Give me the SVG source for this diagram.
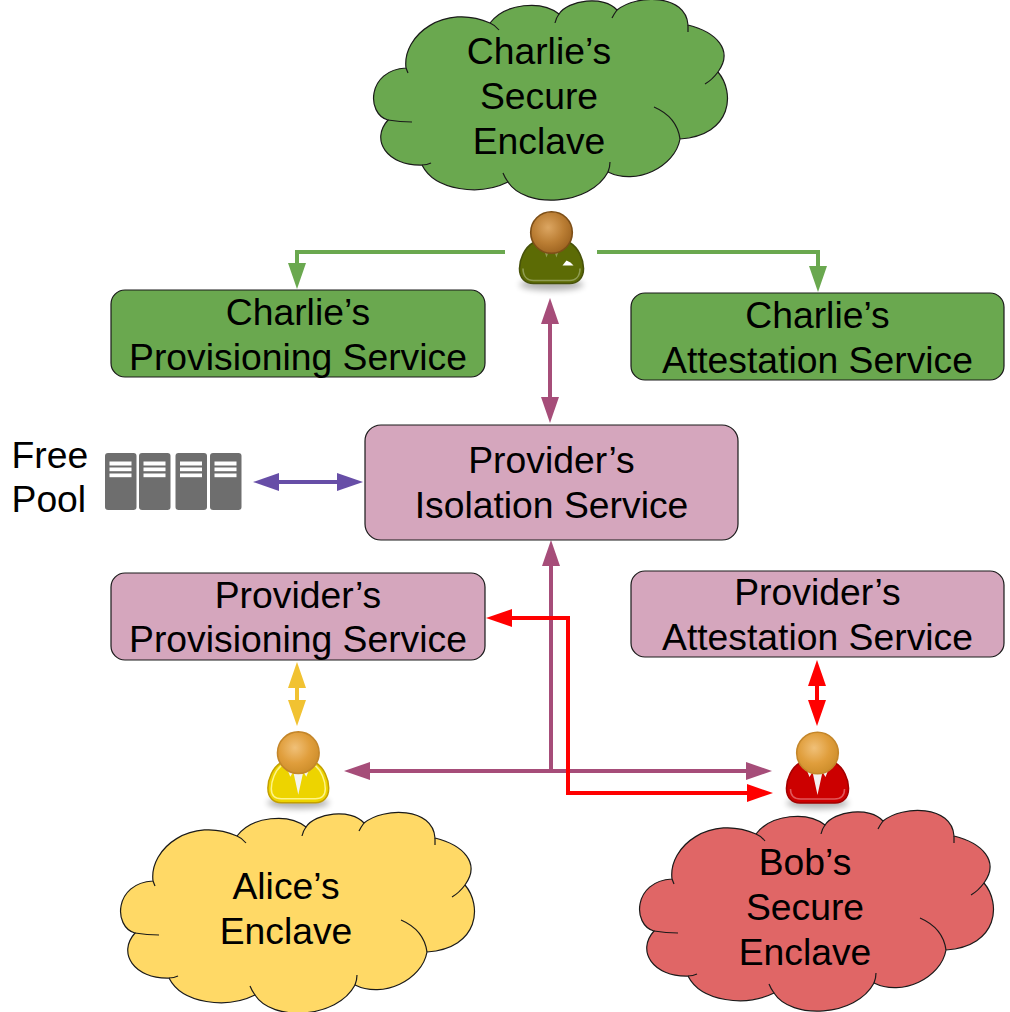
<svg xmlns="http://www.w3.org/2000/svg" width="1010" height="1012" viewBox="0 0 1010 1012">
  <style>
    text { font-family: "Liberation Sans", Arial, sans-serif; font-size: 37.3px; fill: #000; text-anchor: middle; }
    .box { stroke: #1a1a1a; stroke-width: 1.2; }
    .green { fill: #6aa84f; }
    .pink { fill: #d5a6bd; }
    .yellow { fill: #ffd966; }
    .red { fill: #e06666; }
    .cloud-line { fill: none; stroke: #1a1a1a; stroke-width: 1.2; }
    .cloud-body { stroke: #1a1a1a; stroke-width: 1.2; }
    .conn { fill: none; stroke-width: 4; }
    .unit { fill: #6e6e6e; }
    .bar { fill: #fff; }
    .head { stroke-width: 1.6; }
  </style>
  <defs>
    <marker id="ahGreen" markerUnits="userSpaceOnUse" markerWidth="26" markerHeight="18" refX="6" refY="9" orient="auto-start-reverse"><path d="M0 0L26 9L0 18Z" fill="#6aa84f"/></marker>
    <marker id="ahMauve" markerUnits="userSpaceOnUse" markerWidth="26" markerHeight="18" refX="6" refY="9" orient="auto-start-reverse"><path d="M0 0L26 9L0 18Z" fill="#a64d79"/></marker>
    <marker id="ahIndigo" markerUnits="userSpaceOnUse" markerWidth="26" markerHeight="18" refX="6" refY="9" orient="auto-start-reverse"><path d="M0 0L26 9L0 18Z" fill="#674ea7"/></marker>
    <marker id="ahAmber" markerUnits="userSpaceOnUse" markerWidth="26" markerHeight="18" refX="6" refY="9" orient="auto-start-reverse"><path d="M0 0L26 9L0 18Z" fill="#f1c232"/></marker>
    <marker id="ahRed" markerUnits="userSpaceOnUse" markerWidth="26" markerHeight="18" refX="6" refY="9" orient="auto-start-reverse"><path d="M0 0L26 9L0 18Z" fill="#ff0000"/></marker>
    <radialGradient id="headShade" cx="0.42" cy="0.38" r="0.62">
      <stop offset="0" stop-color="#f0c078"/>
      <stop offset="0.6" stop-color="#e09e3c"/>
      <stop offset="1" stop-color="#cf8f2c"/>
    </radialGradient>
    <radialGradient id="headDark" cx="0.42" cy="0.38" r="0.62">
      <stop offset="0" stop-color="#dca662"/>
      <stop offset="0.6" stop-color="#bb7e34"/>
      <stop offset="1" stop-color="#a06622"/>
    </radialGradient>
    <filter id="soft" x="-30%" y="-60%" width="160%" height="220%"><feGaussianBlur stdDeviation="3"/></filter>
    <g id="cloudLines">
      <path class="cloud-line" d="M490 23Q495 25 499 30M559 14Q556 18 555 23M617 10Q614 14 612 18M688 25L688 32M718 72Q712 80 705 84M654 107Q677 117 680 139M608 172Q610 167 610 162M508 182Q505 178 503 173M422 165Q427 165 431 163M388 120Q400 122 412 122M406 68L408 73"/>
    </g>
    <path id="cloudShape" class="cloud-body" d="M406 68C402 35 445 3 490 23C505 3 542 0 559 14C568 0 604 -5 617 10C637 -6 686 -6 688 25C716 32 734 50 718 72C735 92 733 135 680 139C675 167 636 186 608 172C590 206 525 209 508 182C480 196 435 191 422 165C387 166 370 140 388 120C366 114 367 70 406 68Z"/>
    <path id="bodyShape" d="M-18 10C-27 15 -32 27 -32 36C-32 46 -26 51 -18 51L18 51C26 51 32 46 32 36C32 27 27 15 18 10Z"/>
    <g id="server">
      <rect class="unit" width="31.5" height="57" rx="3"/>
      <rect class="bar" x="4.5" y="8.5" width="22" height="4"/>
      <rect class="bar" x="4.5" y="14.5" width="22" height="3.7"/>
      <rect class="bar" x="4.5" y="20.5" width="22" height="3.7"/>
    </g>
  </defs>

  <g id="charlie-enclave">
    <use href="#cloudShape" class="green"/>
    <use href="#cloudLines"/>
    <text x="539" y="63.5">Charlie’s</text>
    <text x="539" y="108.5">Secure</text>
    <text x="539" y="153.5">Enclave</text>
  </g>

  <g id="alice-enclave" transform="translate(-253 813)">
    <use href="#cloudShape" class="yellow"/>
    <use href="#cloudLines"/>
    <text x="539" y="85.5">Alice’s</text>
    <text x="539" y="130.5">Enclave</text>
  </g>

  <g id="bob-enclave" transform="translate(266 811)">
    <use href="#cloudShape" class="red"/>
    <use href="#cloudLines"/>
    <text x="539" y="63.5">Bob’s</text>
    <text x="539" y="108.5">Secure</text>
    <text x="539" y="153.5">Enclave</text>
  </g>

  <g id="connectors">
    <path class="conn" stroke="#6aa84f" marker-end="url(#ahGreen)" d="M505 252H297V269"/>
    <path class="conn" stroke="#6aa84f" marker-end="url(#ahGreen)" d="M597 252H818V272"/>
    <path class="conn" stroke="#a64d79" marker-start="url(#ahMauve)" marker-end="url(#ahMauve)" d="M550 318V403"/>
    <path class="conn" stroke="#674ea7" marker-start="url(#ahIndigo)" marker-end="url(#ahIndigo)" d="M273 482H343"/>
    <path class="conn" stroke="#f1c232" marker-start="url(#ahAmber)" marker-end="url(#ahAmber)" d="M297 682V706"/>
    <path class="conn" stroke="#ff0000" marker-start="url(#ahRed)" marker-end="url(#ahRed)" d="M817 680V706"/>
    <path class="conn" stroke="#a64d79" marker-end="url(#ahMauve)" d="M551 771V560"/>
    <path class="conn" stroke="#a64d79" marker-start="url(#ahMauve)" marker-end="url(#ahMauve)" d="M364 771H752"/>
    <path class="conn" stroke="#ff0000" marker-start="url(#ahRed)" marker-end="url(#ahRed)" d="M506 618H568V793H753"/>
  </g>

  <g id="charlie-provisioning">
    <rect class="box green" x="111" y="290" width="374" height="87" rx="14"/>
    <text x="298" y="324.5">Charlie’s</text>
    <text x="298" y="369.5">Provisioning Service</text>
  </g>
  <g id="charlie-attestation">
    <rect class="box green" x="631" y="293" width="373" height="87" rx="14"/>
    <text x="817.5" y="327.5">Charlie’s</text>
    <text x="817.5" y="372.5">Attestation Service</text>
  </g>
  <g id="provider-isolation">
    <rect class="box pink" x="365" y="425" width="373" height="115" rx="16"/>
    <text x="551.5" y="472.5">Provider’s</text>
    <text x="551.5" y="517.5">Isolation Service</text>
  </g>
  <g id="provider-provisioning">
    <rect class="box pink" x="111" y="573" width="374" height="87" rx="14"/>
    <text x="298" y="607.5">Provider’s</text>
    <text x="298" y="651.5">Provisioning Service</text>
  </g>
  <g id="provider-attestation">
    <rect class="box pink" x="631" y="571" width="373" height="86" rx="14"/>
    <text x="817.5" y="605">Provider’s</text>
    <text x="817.5" y="649.5">Attestation Service</text>
  </g>

  <g id="free-pool">
    <text x="11.5" y="467.5" style="text-anchor:start">Free</text>
    <text x="11.5" y="511.5" style="text-anchor:start">Pool</text>
    <use href="#server" x="105" y="453"/>
    <use href="#server" x="139" y="453"/>
    <use href="#server" x="175.5" y="453"/>
    <use href="#server" x="210" y="453"/>
  </g>

  <g id="charlie" transform="translate(551.5 232.5)">
    <ellipse cx="0" cy="52" rx="32" ry="6" fill="#000" opacity="0.3" filter="url(#soft)"/>
    <use href="#bodyShape" fill="#5c6b05" stroke="#47520a" stroke-width="1.6"/>
    <path d="M-28.5 36C-28.5 44 -24 48 -18 48L18 48C24 48 28.5 44 28.5 36" fill="none" stroke="#8f9c52" stroke-width="1.6"/>
    <path d="M-8 16L-5 25L-2 17ZM2 17L5 25L8 16Z" fill="#8f9c52"/>
    <path d="M11 33L15 28L19 30L22 33Z" fill="#fff"/>
    <circle class="head" r="20.8" fill="url(#headDark)" stroke="#7d4f18"/>
  </g>

  <g id="alice" transform="translate(298.3 752.7)">
    <ellipse cx="0" cy="50" rx="31" ry="6" fill="#000" opacity="0.3" filter="url(#soft)"/>
    <use href="#bodyShape" fill="#edd400" stroke="#c4a000" stroke-width="1.6" transform="scale(0.95 0.98)"/>
    <path d="M-27 36C-27 43 -23 46 -17 46L17 46C23 46 27 43 27 36C27 28 23 18 17 13M-27 36C-27 28 -23 18 -17 13" fill="none" stroke="#fff48a" stroke-width="1.5"/>
    <path d="M-12 14L-8 24L-5 19L0 42L5 19L8 24L12 14Z" fill="#f4f4ee"/>
    <circle class="head" r="20.8" fill="url(#headShade)" stroke="#c4862a"/>
  </g>

  <g id="bob" transform="translate(817.5 753)">
    <ellipse cx="0" cy="50" rx="31" ry="6" fill="#000" opacity="0.3" filter="url(#soft)"/>
    <use href="#bodyShape" fill="#cc0000" stroke="#a40000" stroke-width="1.6" transform="scale(0.97 0.98)"/>
    <path d="M-27 36C-27 43 -23 46 -17 46L17 46C23 46 27 43 27 36" fill="none" stroke="#e2575a" stroke-width="1.5"/>
    <path d="M-12 14L-8 24L-5 19L0 42L5 19L8 24L12 14Z" fill="#f4f0f0"/>
    <circle class="head" r="20.8" fill="url(#headShade)" stroke="#c4862a"/>
  </g>
</svg>
